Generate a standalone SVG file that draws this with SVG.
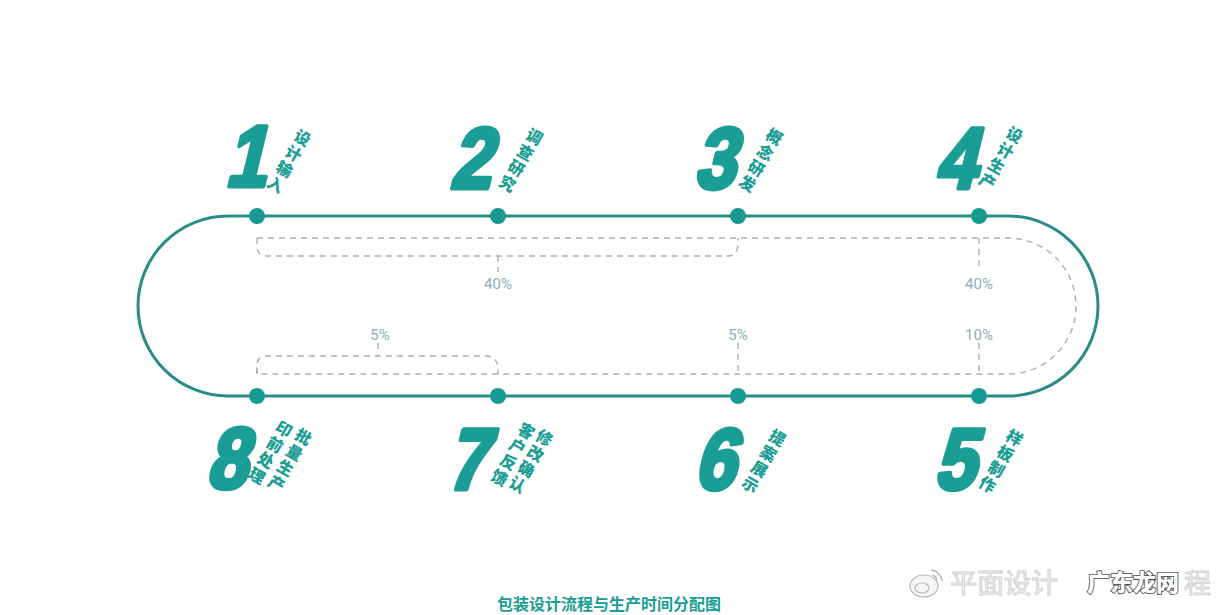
<svg xmlns="http://www.w3.org/2000/svg" width="1220" height="615" viewBox="0 0 1220 615">
<style>
.track{fill:none;stroke:#2a8c87;stroke-width:3}
.dash{fill:none;stroke:#a7b1b1;stroke-width:1.4;stroke-dasharray:6 5}
.dot{fill:#179a92}
.num{font-family:"Liberation Sans",Arial,sans-serif;font-weight:bold;font-size:86px;fill:#1a9d94;stroke:#1a9d94;stroke-width:5;stroke-linejoin:round;text-anchor:middle}
.lab{font-family:"Noto Sans CJK SC","Noto Sans",sans-serif;font-weight:900;font-size:16px;fill:#1a9d94;text-anchor:middle;dominant-baseline:central}
.pct{font-family:"Roboto","Liberation Sans",sans-serif;font-size:15px;fill:#8bb1b1;text-anchor:middle}
.cap{font-family:"Noto Sans CJK SC",sans-serif;font-weight:bold;font-size:16px;fill:#1a9d94;text-anchor:middle}
.wm{font-family:"Noto Sans CJK SC",sans-serif;font-size:27px;fill:#f4f4f4;stroke:#d2d2d2;stroke-width:1}
.wm2{font-family:"Noto Sans CJK SC",sans-serif;font-weight:900;font-size:23px;fill:#ffffff;stroke:#444;stroke-width:1.6;paint-order:stroke}
</style>
<rect width="1220" height="615" fill="#ffffff"/>
<g id="connectors">
<path class="track" d="M228,216 H1008 A90,90 0 0 1 1008,396 H228 A90,90 0 0 1 228,216 Z"/>
<path class="dash" d="M257,238 H1008 A68,68 0 0 1 1008,374 H257 V366"/>
<path class="dash" d="M257,238 V246 Q257,256 267,256 H728 Q736,256 738,246 V238"/>
<path class="dash" d="M257,374 V366 Q257,356 267,356 H486 Q496,356 498,366 V374"/>
<path class="dash" d="M498,256 V272"/>
<path class="dash" d="M979,238 V270"/>
<path class="dash" d="M378,343 V356"/>
<path class="dash" d="M738,343 V374"/>
<path class="dash" d="M979,343 V374"/>
<text class="pct" x="498" y="289">40%</text>
<text class="pct" x="979" y="289">40%</text>
<text class="pct" x="380" y="340">5%</text>
<text class="pct" x="738" y="340">5%</text>
<text class="pct" x="979" y="340">10%</text>
</g>
<g id="node1">
<circle class="dot" cx="257" cy="216" r="8"/>
<text class="num" transform="translate(245,186) scale(0.85,1) skewX(-16)">1</text>
<g transform="translate(303,137) rotate(30)"><text class="lab"><tspan x="0" y="0">设</tspan><tspan x="0" y="18">计</tspan><tspan x="0" y="36">输</tspan><tspan x="0" y="54">入</tspan></text></g>
</g>
<g id="node2">
<circle class="dot" cx="498" cy="216" r="8"/>
<text class="num" transform="translate(470,188) scale(0.85,1) skewX(-16)">2</text>
<g transform="translate(535,136) rotate(30)"><text class="lab"><tspan x="0" y="0">调</tspan><tspan x="0" y="18">查</tspan><tspan x="0" y="36">研</tspan><tspan x="0" y="54">究</tspan></text></g>
</g>
<g id="node3">
<circle class="dot" cx="738" cy="216" r="8"/>
<text class="num" transform="translate(714,188) scale(0.85,1) skewX(-16)">3</text>
<g transform="translate(775,136) rotate(30)"><text class="lab"><tspan x="0" y="0">概</tspan><tspan x="0" y="18">念</tspan><tspan x="0" y="36">研</tspan><tspan x="0" y="54">发</tspan></text></g>
</g>
<g id="node4">
<circle class="dot" cx="979" cy="216" r="8"/>
<text class="num" transform="translate(955,188) scale(0.85,1) skewX(-16)">4</text>
<g transform="translate(1015,134) rotate(30)"><text class="lab"><tspan x="0" y="0">设</tspan><tspan x="0" y="18">计</tspan><tspan x="0" y="36">生</tspan><tspan x="0" y="54">产</tspan></text></g>
</g>
<g id="node5">
<circle class="dot" cx="979" cy="396" r="8"/>
<text class="num" transform="translate(954,489) scale(0.85,1) skewX(-16)">5</text>
<g transform="translate(1015,437) rotate(30)"><text class="lab"><tspan x="0" y="0">样</tspan><tspan x="0" y="18">板</tspan><tspan x="0" y="36">制</tspan><tspan x="0" y="54">作</tspan></text></g>
</g>
<g id="node6">
<circle class="dot" cx="738" cy="396" r="8"/>
<text class="num" transform="translate(714,489) scale(0.85,1) skewX(-16)">6</text>
<g transform="translate(778,437) rotate(30)"><text class="lab"><tspan x="0" y="0">提</tspan><tspan x="0" y="18">案</tspan><tspan x="0" y="36">展</tspan><tspan x="0" y="54">示</tspan></text></g>
</g>
<g id="node7">
<circle class="dot" cx="498" cy="396" r="8"/>
<text class="num" transform="translate(466,489) scale(0.85,1) skewX(-16)">7</text>
<g transform="translate(545,437) rotate(30)"><text class="lab"><tspan x="0" y="0">修</tspan><tspan x="0" y="18">改</tspan><tspan x="0" y="36">确</tspan><tspan x="0" y="54">认</tspan><tspan x="-19" y="3">客</tspan><tspan x="-19" y="21">户</tspan><tspan x="-19" y="39">反</tspan><tspan x="-19" y="57">馈</tspan></text></g>
</g>
<g id="node8">
<circle class="dot" cx="257" cy="396" r="8"/>
<text class="num" transform="translate(226,488) scale(0.85,1) skewX(-16)">8</text>
<g transform="translate(304,436) rotate(30)"><text class="lab"><tspan x="0" y="0">批</tspan><tspan x="0" y="18">量</tspan><tspan x="0" y="36">生</tspan><tspan x="0" y="54">产</tspan><tspan x="-21" y="3">印</tspan><tspan x="-21" y="21">前</tspan><tspan x="-21" y="39">处</tspan><tspan x="-21" y="57">理</tspan></text></g>
</g>
<text class="cap" x="609" y="610">包装设计流程与生产时间分配图</text>
<g id="watermark">
<ellipse cx="924" cy="586" rx="14" ry="11" fill="#f6f6f6" stroke="#b8b8b8" stroke-width="1.2"/>
<ellipse cx="922" cy="588" rx="7" ry="5" fill="none" stroke="#b8b8b8" stroke-width="1.2"/>
<path d="M931,570 A12,12 0 0 1 942,581 M932,575 A6,6 0 0 1 937,580" fill="none" stroke="#b8b8b8" stroke-width="1.4"/>
<text class="wm" x="950" y="593">平面设计</text>
<text class="wm2" x="1087" y="591">广东龙网</text>
<text class="wm" x="1184" y="593">程</text>
</g>
</svg>
